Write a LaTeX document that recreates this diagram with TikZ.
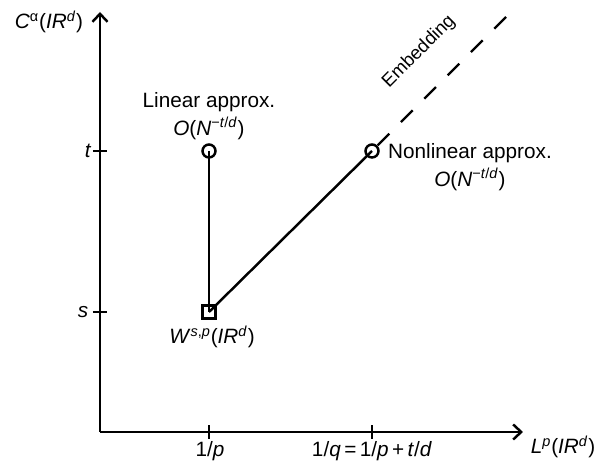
\documentclass[tikz,border=0pt]{standalone}
\usepackage{fontspec}
\setmainfont{Liberation Sans}
\usetikzlibrary{arrows.meta}
\newcommand{\iv}[1]{\textit{#1}}

\begin{document}
\begin{tikzpicture}[line width=1.4pt,
  lbl/.style={font=\fontsize{11.8}{14}\selectfont, inner sep=1pt},
  ring/.style={circle,draw,inner sep=0pt,minimum size=0.26cm},
  box/.style={rectangle,draw,inner sep=0pt,minimum size=0.26cm},
  tip/.style={-{Straight Barb[length=0.16cm,width=0.3cm]}}]
  \useasboundingbox (0,0) rectangle (12.08,9.32);
  % axes, origin at (2,0.68)
  \coordinate (o) at (2,0.68);
  \coordinate (ytop) at (2,9.08);
  \coordinate (xend) at (10.46,0.68);
  \draw[tip] (o) -- (ytop);
  \draw[tip] (o) -- (xend);
  \node[lbl] (yname) at (0.98,8.88) {\iv{C}\textsuperscript{α}(\iv{IR}\textsuperscript{\iv{d}})};
  \node[lbl] (xname) at (11.26,0.38) {\iv{L}\textsuperscript{\iv{p}}(\iv{IR}\textsuperscript{\iv{d}})};
  % ticks
  \foreach \y/\x/\name in {6.3/1.76/t,3.08/1.66/s} {
    \draw (1.86,\y) -- (2.14,\y);
    \node[lbl] (tick\name) at (\x,\y) {\iv{\name}};
  }
  \draw (4.18,0.54) -- (4.18,0.82);
  \draw (7.44,0.54) -- (7.44,0.82);
  \node[lbl] (tp) at (4.2,0.3) {1/\iv{p}};
  \node[lbl] (tq) at (7.44,0.3) {1/\iv{q}\,=\,1/\iv{p}\,+\,\iv{t}/\iv{d}};
  % spaces
  \node[ring] (lin) at (4.18,6.3) {};
  \node[ring] (nonlin) at (7.44,6.3) {};
  \node[box] (sob) at (4.18,3.08) {};
  \draw (lin.center) -- (sob.center);
  \draw (sob.center) -- (nonlin.center);
  \coordinate (emb) at (10.12,8.98);
  \draw[dash pattern=on 0.33cm off 0.33cm] (emb) -- (nonlin);
  % labels
  \node[lbl,align=center] (linlbl) at (4.18,7.0) {Linear approx.\\[2pt]\iv{O}(\iv{N}\textsuperscript{−\iv{t}/\iv{d}})};
  \node[lbl,align=center] (nonlbl) at (9.4,5.98) {Nonlinear approx.\\[2pt]\iv{O}(\iv{N}\textsuperscript{−\iv{t}/\iv{d}})};
  \node[lbl] (soblbl) at (4.24,2.58) {\iv{W}\textsuperscript{\iv{s},\iv{p}}(\iv{IR}\textsuperscript{\iv{d}})};
  \node[lbl,font=\fontsize{10.6}{12}\selectfont,rotate=45] (emblbl) at (8.38,8.28) {Embedding};
\end{tikzpicture}
\end{document}
